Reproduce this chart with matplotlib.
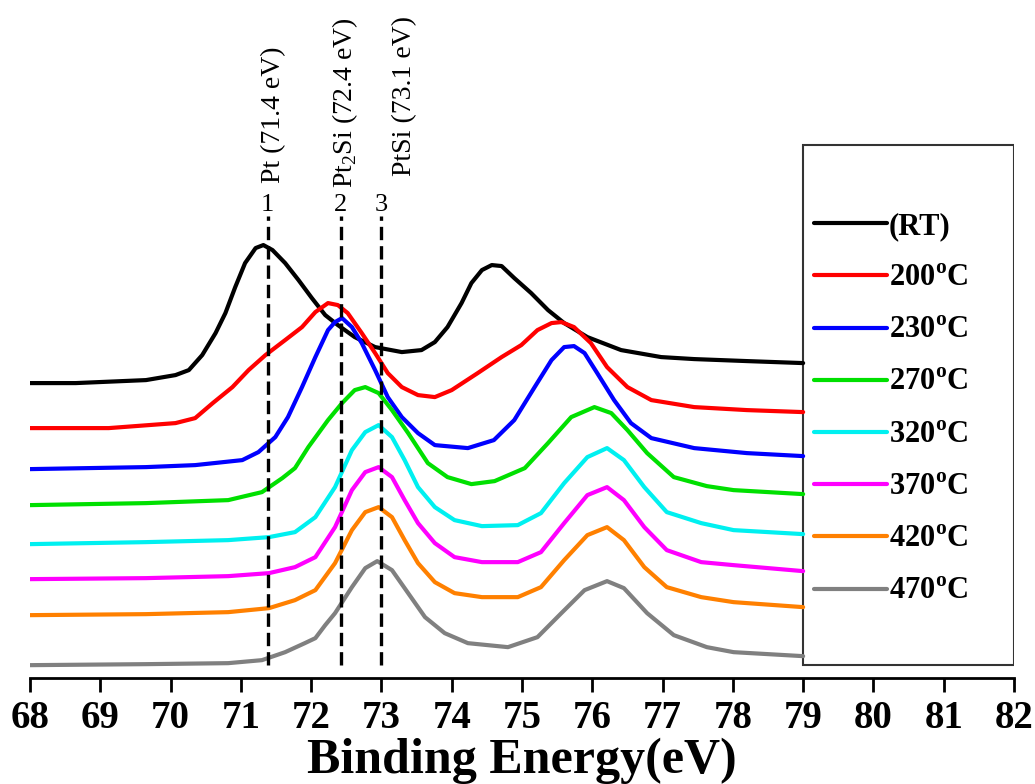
import numpy as np
import matplotlib
matplotlib.use('Agg')
import matplotlib.pyplot as plt
from matplotlib.patches import Rectangle

plt.rcParams['font.family'] = ['Liberation Serif', 'DejaVu Serif']

# Pt 4f XPS spectra, intensity in arbitrary units (stacked)
ev_rt = [68.0, 68.65, 69.65, 70.07, 70.26, 70.45, 70.64, 70.78, 70.92, 71.06, 71.21, 71.32, 71.45,
         71.63, 71.82, 72.01, 72.2, 72.38, 72.62, 72.91, 73.29, 73.57, 73.76, 73.94, 74.14, 74.28,
         74.43, 74.57, 74.71, 74.89, 75.13, 75.37, 75.6, 75.93, 76.41, 76.98, 77.45, 78.2, 79.0]
i_rt = [295, 295, 298, 303, 308, 323, 345, 365, 391, 415, 430, 433, 428,
        415, 398, 380, 363, 353, 341, 331, 326, 328, 336, 351, 375, 395,
        408, 413, 412, 400, 385, 368, 355, 341, 328, 321, 319, 317, 315]

ev_200 = [68.0, 69.12, 70.07, 70.35, 70.6, 70.88, 71.11, 71.35, 71.63, 71.87, 72.06, 72.24, 72.38,
          72.52, 72.72, 72.91, 73.09, 73.29, 73.52, 73.76, 74.0, 74.37, 74.71, 74.99, 75.22, 75.42,
          75.56, 75.74, 75.98, 76.21, 76.5, 76.84, 77.45, 78.2, 79.0]
i_200 = [250, 250, 255, 260, 275, 291, 308, 323, 338, 351, 366, 375, 373,
         365, 345, 325, 305, 291, 283, 281, 288, 305, 321, 333, 348, 355,
         356, 351, 335, 311, 291, 278, 271, 268, 266]

ev_230 = [68.0, 69.65, 70.35, 71.02, 71.25, 71.49, 71.67, 71.87, 72.06, 72.24, 72.34, 72.44, 72.58,
          72.72, 72.91, 73.09, 73.29, 73.52, 73.76, 74.23, 74.6, 74.89, 75.18, 75.42, 75.6, 75.74,
          75.89, 76.07, 76.31, 76.55, 76.84, 77.45, 78.2, 79.0]
i_230 = [209, 211, 213, 218, 226, 241, 261, 291, 321, 348, 356, 360, 351,
         335, 308, 281, 261, 245, 233, 230, 238, 258, 291, 318, 331, 332,
         325, 305, 278, 255, 240, 230, 225, 222]

ev_270 = [68.0, 69.65, 70.82, 71.3, 71.59, 71.77, 71.96, 72.24, 72.44, 72.62, 72.77, 72.96, 73.15,
          73.38, 73.66, 73.94, 74.28, 74.61, 75.04, 75.37, 75.7, 76.03, 76.27, 76.5, 76.78, 77.16,
          77.63, 78.01, 79.0]
i_270 = [173, 175, 178, 186, 200, 210, 231, 258, 275, 288, 291, 285, 268,
         245, 215, 201, 194, 197, 210, 235, 261, 271, 265, 248, 225, 201,
         192, 188, 184]

ev_320 = [68.0, 69.65, 70.82, 71.4, 71.77, 72.06, 72.34, 72.58, 72.77, 72.96, 73.15, 73.33, 73.52,
          73.76, 74.04, 74.43, 74.94, 75.27, 75.6, 75.93, 76.21, 76.45, 76.74, 77.06, 77.55, 78.01,
          79.0]
i_320 = [134, 136, 138, 141, 146, 161, 191, 228, 246, 253, 241, 218, 191,
         171, 158, 152, 153, 165, 195, 221, 230, 218, 191, 166, 155, 148,
         144]

ev_370 = [68.0, 69.65, 70.82, 71.4, 71.77, 72.06, 72.34, 72.58, 72.77, 72.96, 73.15, 73.33, 73.52,
          73.76, 74.04, 74.43, 74.94, 75.27, 75.6, 75.93, 76.21, 76.45, 76.74, 77.06, 77.55, 78.01,
          79.0]
i_370 = [99, 100, 102, 105, 111, 121, 151, 188, 206, 211, 201, 178, 155,
         135, 121, 116, 116, 126, 155, 183, 191, 178, 151, 128, 116, 113,
         107]

ev_420 = [68.0, 69.65, 70.82, 71.4, 71.77, 72.06, 72.34, 72.58, 72.77, 72.96, 73.15, 73.33, 73.52,
          73.76, 74.04, 74.43, 74.94, 75.27, 75.6, 75.93, 76.21, 76.45, 76.74, 77.06, 77.55, 78.01,
          79.0]
i_420 = [63, 64, 66, 70, 78, 88, 115, 148, 166, 171, 161, 138, 115,
         96, 85, 81, 81, 91, 118, 143, 151, 138, 111, 91, 81, 76,
         71]

ev_470 = [68.0, 69.65, 70.82, 71.3, 71.63, 71.91, 72.06, 72.2, 72.34, 72.58, 72.77, 72.94, 73.15,
          73.38, 73.62, 73.9, 74.23, 74.8, 75.22, 75.56, 75.89, 76.21, 76.45, 76.78, 77.16, 77.63,
          78.01, 79.0]
i_470 = [13, 14, 15, 18, 26, 35, 40, 53, 65, 91, 110, 117, 108,
         85, 61, 45, 35, 31, 41, 65, 88, 97, 90, 65, 43, 31,
         26, 22]

labels = ['(RT)', '200$^\\mathregular{o}$C', '230$^\\mathregular{o}$C', '270$^\\mathregular{o}$C',
          '320$^\\mathregular{o}$C', '370$^\\mathregular{o}$C', '420$^\\mathregular{o}$C',
          '470$^\\mathregular{o}$C']
colors = ['black', '#ff0000', '#0000ff', '#00e000', '#00f0f0', '#ff00ff', '#ff8000', '#808080']

# reference peak positions (eV)
ref_ev = [71.38, 72.42, 73.0]
ref_num = ['1', '2', '3']
ref_text = ['Pt (71.4 eV)', 'Pt$_\\mathregular{2}$Si (72.4 eV)', 'PtSi (73.1 eV)']

fig = plt.figure(figsize=(10.35, 7.84), dpi=100)
ax = fig.add_axes([0.029, 0.135, 0.9507, 0.865])

series = [(ev_rt, i_rt), (ev_200, i_200), (ev_230, i_230), (ev_270, i_270),
          (ev_320, i_320), (ev_370, i_370), (ev_420, i_420), (ev_470, i_470)]
for (x, y), lab, c in zip(series, labels, colors):
    ax.plot(x, y, color=c, lw=3, label=lab, solid_joinstyle='round', solid_capstyle='round')

for e, n in zip(ref_ev, ref_num):
    ax.plot([e, e], [13, 462], color='black', lw=2.4, dashes=(4, 1.8))
    ax.text(e, 462, n, ha='center', va='bottom', fontsize=19)
ax.text(71.46, 495, ref_text[0], rotation=90, ha='center', va='bottom', fontsize=20)
ax.text(72.48, 490, ref_text[1], rotation=90, ha='center', va='bottom', fontsize=20)
ax.text(73.33, 502, ref_text[2], rotation=90, ha='center', va='bottom', fontsize=20)

# legend box
ax.add_patch(Rectangle((79.0, 13), 3.0, 520, fill=False, edgecolor='#333333', lw=1.5))
ax.legend(loc='center left', bbox_to_anchor=(79.15, 269), bbox_transform=ax.transData,
          frameon=False, borderpad=0, borderaxespad=0, handlelength=2.4, handletextpad=0.05,
          labelspacing=0.76, prop={'family': 'Liberation Serif', 'weight': 'bold', 'size': 22})

ax.set_xlim(68, 82)
ax.set_ylim(0, 678)
ax.set_xticks(np.arange(68, 83, 1))
ax.set_yticks([])
for s in ['left', 'right', 'top']:
    ax.spines[s].set_visible(False)
ax.spines['bottom'].set_linewidth(2)
ax.tick_params(axis='x', direction='out', length=10, width=2, labelsize=28, pad=6)
for t in ax.get_xticklabels():
    t.set_fontweight('bold')
ax.set_xlabel('Binding Energy(eV)', fontsize=36, fontweight='bold', labelpad=0)

fig.savefig('out.png', dpi=100)
